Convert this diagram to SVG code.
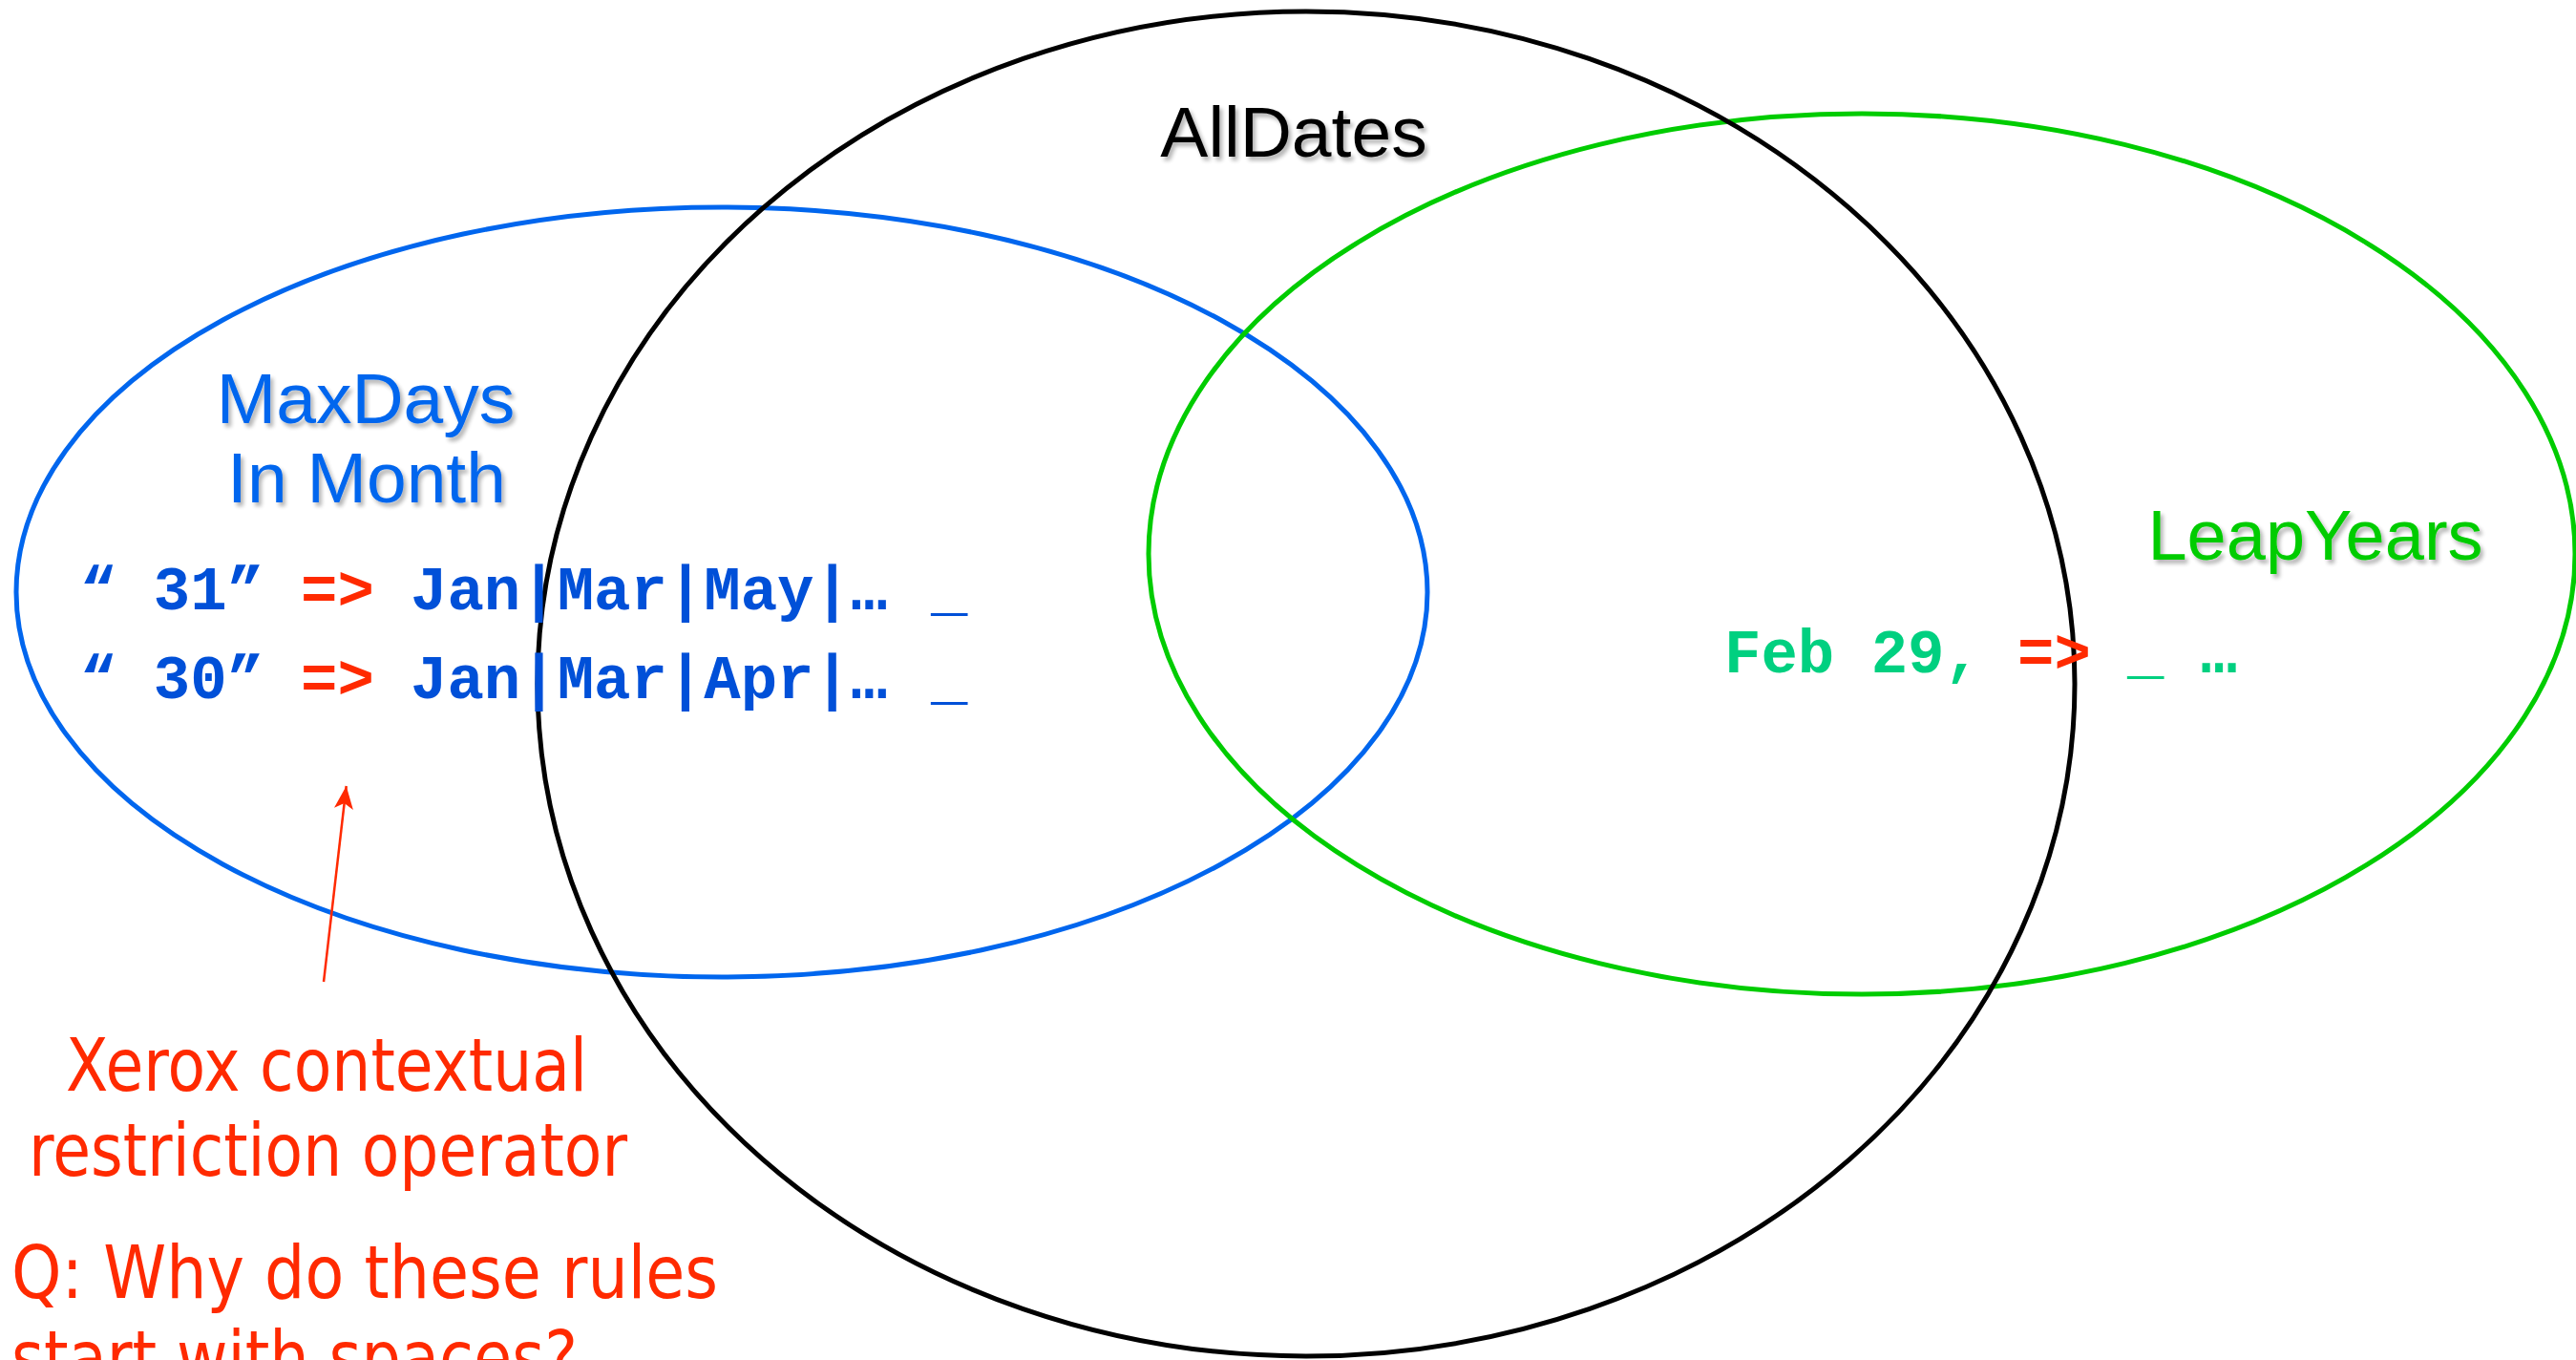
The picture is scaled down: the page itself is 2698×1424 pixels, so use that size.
<svg xmlns="http://www.w3.org/2000/svg" width="2698" height="1424" viewBox="0 0 2698 1424">
<style>
.set{fill:none;stroke-width:5}
.lbl{font-family:"Liberation Sans",Arial,sans-serif;font-size:75px;text-anchor:middle}
.mono{font-family:"Liberation Mono","Courier New",monospace;font-size:64px;font-weight:bold}
.note{font-family:"DejaVu Sans",Verdana,sans-serif;font-size:77px;fill:#ff2a00}
.blue{fill:#0050d8}
.red{fill:#ff2a00}
.teal{fill:#00d080}
</style>
<defs>
<filter id="sh" x="-5%" y="-20%" width="115%" height="150%">
<feGaussianBlur in="SourceAlpha" stdDeviation="2"/>
<feOffset dx="3" dy="4" result="o"/>
<feComponentTransfer><feFuncA type="linear" slope="0.3"/></feComponentTransfer>
<feMerge><feMergeNode/><feMergeNode in="SourceGraphic"/></feMerge>
</filter>
<marker id="ah" markerUnits="userSpaceOnUse" markerWidth="30" markerHeight="30" refX="24" refY="10" orient="auto">
<path d="M0,0 L24,10 L0,20 L6,10 Z" fill="#ff2a00"/>
</marker>
</defs>
<rect width="2698" height="1424" fill="#ffffff"/>
<g id="maxdays">
<ellipse class="set" cx="756" cy="620" rx="739" ry="403" stroke="#0066ee"/>
<text class="lbl" x="383" y="443" fill="#0066ee" filter="url(#sh)">MaxDays</text>
<text class="lbl" x="384" y="526" fill="#0066ee" filter="url(#sh)">In Month</text>
</g>
<g id="leapyears">
<ellipse class="set" cx="1950" cy="580" rx="747" ry="461" stroke="#00cc00"/>
<text class="lbl" x="2425" y="586" fill="#00cc00" filter="url(#sh)" style="font-size:74px">LeapYears</text>
</g>
<g id="alldates">
<ellipse class="set" cx="1368" cy="716" rx="805" ry="704" stroke="#000000"/>
<text class="lbl" x="1355" y="164" fill="#000000" filter="url(#sh)">AllDates</text>
</g>
<g id="rules">
<text class="mono" y="638"><tspan class="blue" x="84">“ 31”</tspan><tspan class="red" x="315">=&gt;</tspan><tspan class="blue" x="430">Jan|Mar|May|…</tspan><tspan class="blue" x="975">_</tspan></text>
<text class="mono" y="731"><tspan class="blue" x="84">“ 30”</tspan><tspan class="red" x="315">=&gt;</tspan><tspan class="blue" x="430">Jan|Mar|Apr|…</tspan><tspan class="blue" x="975">_</tspan></text>
<text class="mono" y="704"><tspan class="teal" x="1806">Feb 29,</tspan><tspan class="red" x="2113">=&gt;</tspan><tspan class="teal" x="2228">_ …</tspan></text>
</g>
<g id="connectors">
<line x1="339" y1="1028" x2="362.7" y2="823" stroke="#ff2a00" stroke-width="2.5" marker-end="url(#ah)"/>
</g>
<g id="annotation">
<text class="note" x="69" y="1142" textLength="546" lengthAdjust="spacingAndGlyphs">Xerox contextual</text>
<text class="note" x="30" y="1231" textLength="627" lengthAdjust="spacingAndGlyphs">restriction operator</text>
<text class="note" x="12" y="1359" textLength="740" lengthAdjust="spacingAndGlyphs">Q: Why do these rules</text>
<text class="note" x="12" y="1448" textLength="593" lengthAdjust="spacingAndGlyphs">start with spaces?</text>
</g>
</svg>
